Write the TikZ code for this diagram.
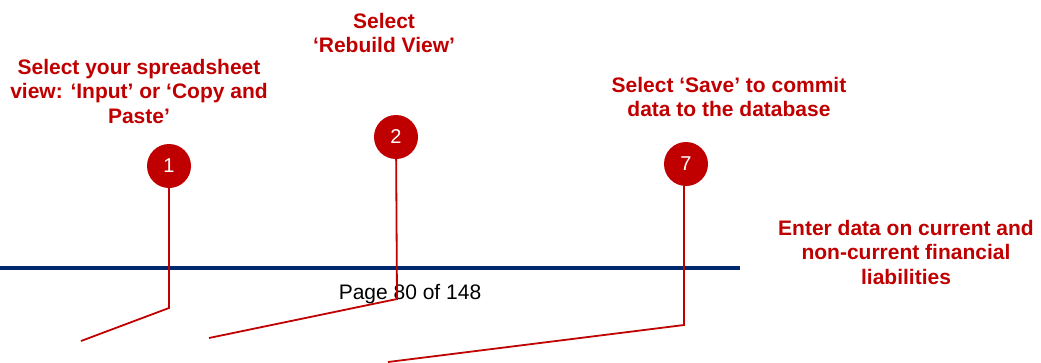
\documentclass[tikz,border=0pt]{standalone}
\usepackage{fontspec}
\setmainfont{Liberation Sans}
\usepackage{tikz}
\usetikzlibrary{positioning}
\definecolor{stepred}{RGB}{192,0,0}
\definecolor{rulenavy}{RGB}{0,40,110}
\tikzset{
  numdot/.style={circle, fill=stepred, draw=none, text=white, inner sep=0pt,
                 minimum size=44pt, font=\fontsize{20}{20}\selectfont},
  note/.style={align=center, text=stepred, inner sep=0pt,
               font=\fontsize{21}{24.5}\selectfont\bfseries},
  leader/.style={draw=stepred, line width=1.8pt},
  pagerule/.style={draw=rulenavy, line width=3.4pt}
}

\begin{document}
\begin{tikzpicture}[x=1pt, y=-1pt]
  \useasboundingbox (0,0) rectangle (1041,362);
  % page footer
  \coordinate (rl) at (0,268);
  \coordinate (rr) at (740,268);
  \draw[pagerule] (rl) -- (rr);
  \node[inner sep=0pt, font=\fontsize{21}{24}\selectfont] (pg) at (410,294) {Page 80 of 148};
  % callouts
  \node[note] (t1) at (139,91) {Select your spreadsheet\\view: ‘Input’ or ‘Copy and\\Paste’};
  \node[note] (t2) at (384,33) {Select\\‘Rebuild View’};
  \node[note] (t7) at (729,97) {Select ‘Save’ to commit\\data to the database};
  \node[note] (t8) at (906,252) {Enter data on current and\\non-current financial\\liabilities};
  \node[numdot] (c1) at (169,166) {1};
  \node[numdot] (c2) at (396,137) {2};
  \node[numdot] (c7) at (686,164) {7};
  \coordinate (b1) at (169,308);
  \coordinate (e1) at (81,341);
  \coordinate (b2) at (397,299);
  \coordinate (e2) at (209,338);
  \coordinate (b7) at (684,325);
  \coordinate (e7) at (388,362);
  \draw[leader] (c1) -- (b1) -- (e1);
  \draw[leader] (c2) -- (b2) -- (e2);
  \draw[leader] (c7.south -| b7) -- (b7) -- (e7);
\end{tikzpicture}
\end{document}
